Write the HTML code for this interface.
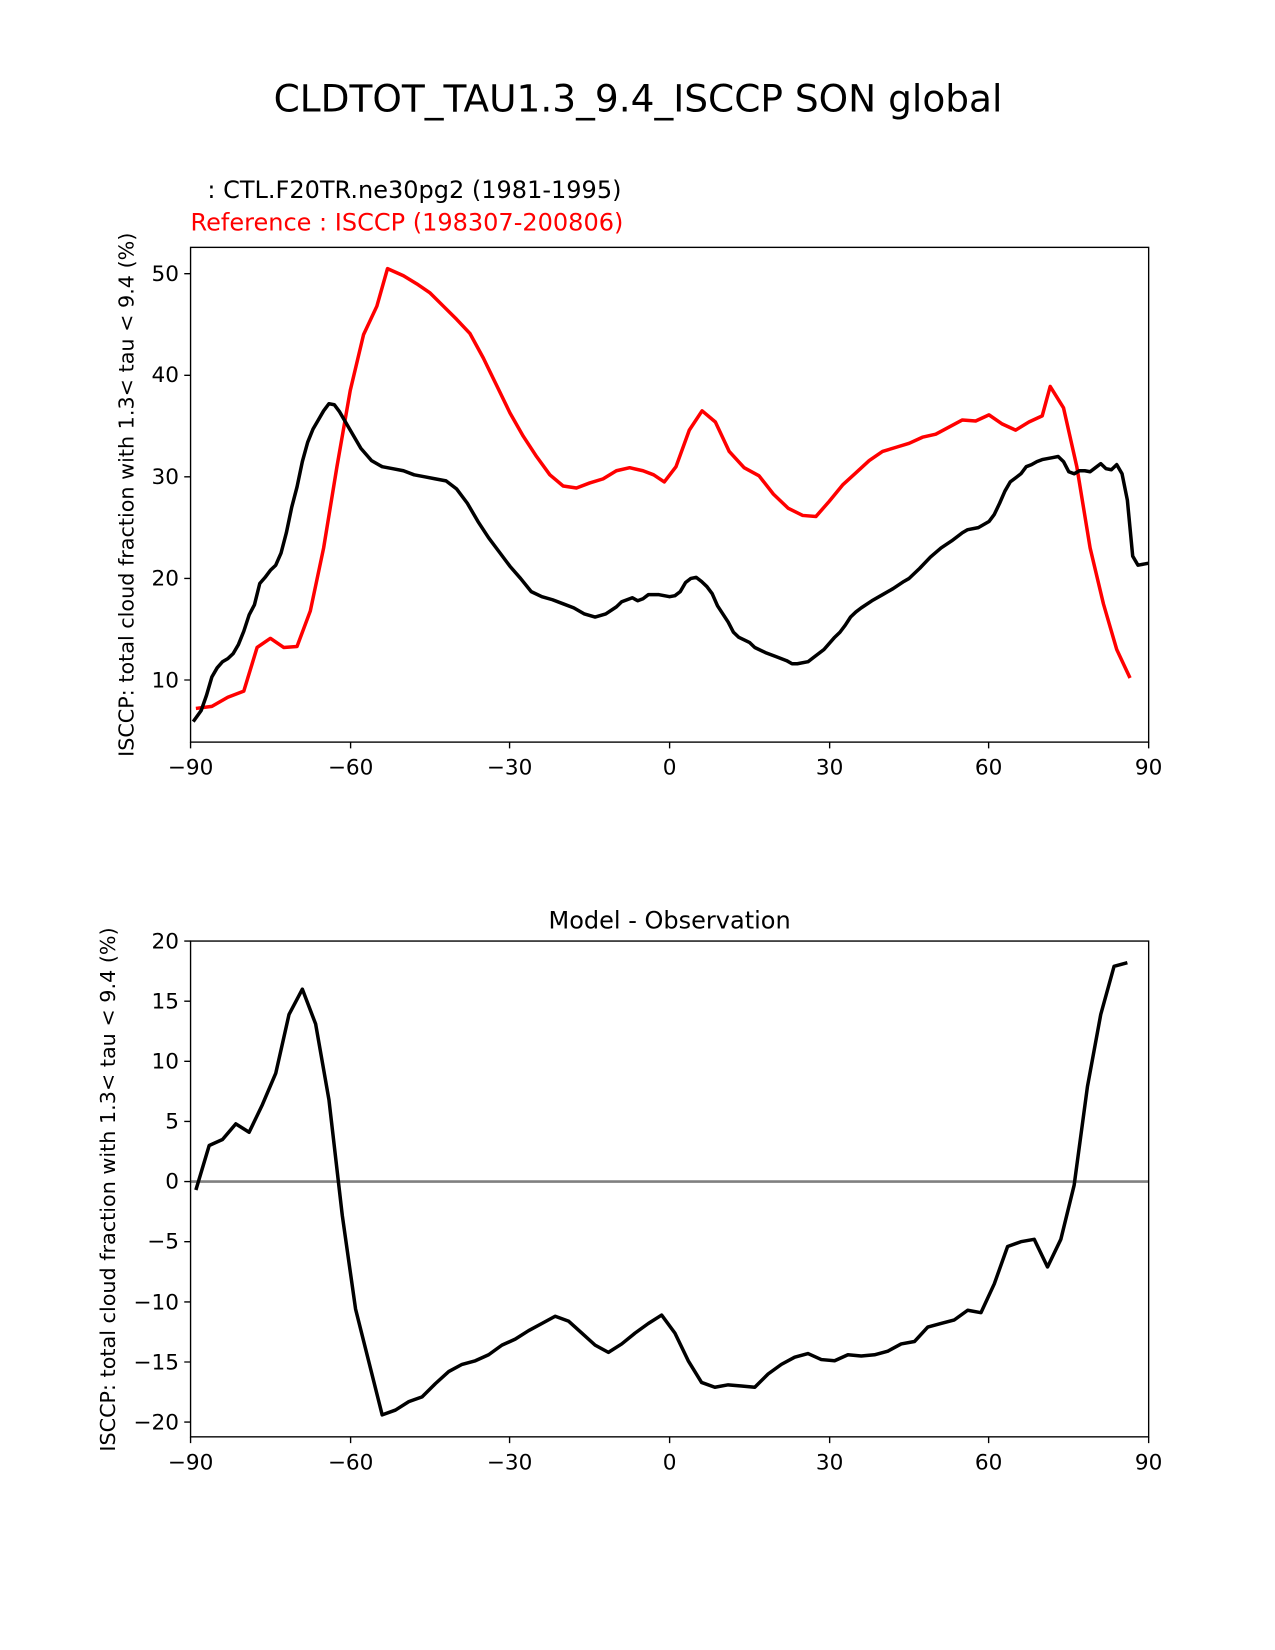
<!DOCTYPE html>
<html><head><meta charset="utf-8"><style>body{margin:0;background:#fff}svg{display:block}text{font-family:"DejaVu Sans","Liberation Sans",sans-serif}</style></head><body>
<svg width="1275" height="1650" viewBox="0 0 1211 1567.5" preserveAspectRatio="none" xmlns="http://www.w3.org/2000/svg">
<rect width="1211" height="1567.5" fill="#fff"/>
<text x="606" y="106" font-size="35.6" text-anchor="middle">CLDTOT_TAU1.3_9.4_ISCCP SON global</text>
<text x="197" y="188" font-size="22.8">: CTL.F20TR.ne30pg2 (1981-1995)</text>
<text x="181" y="219" font-size="22.8" fill="#f00">Reference : ISCCP (198307-200806)</text>
<text transform="translate(127,470) rotate(-90)" font-size="19.7" text-anchor="middle">ISCCP: total cloud fraction with 1.3&lt; tau &lt; 9.4 (%)</text>
<text transform="translate(109,1130) rotate(-90)" font-size="19.7" text-anchor="middle">ISCCP: total cloud fraction with 1.3&lt; tau &lt; 9.4 (%)</text>
<text x="636" y="882" font-size="22.8" text-anchor="middle">Model - Observation</text>
<defs><clipPath id="c1"><rect x="181" y="235" width="910" height="470"/></clipPath><clipPath id="c2"><rect x="181" y="894" width="910" height="471"/></clipPath></defs>
<g clip-path="url(#c1)">
<g transform="matrix(5.0556 0 0 -9.65 636 742.5)" fill="none" stroke-linejoin="round">
<polyline vector-effect="non-scaling-stroke" stroke="#f00" stroke-width="3.5" points="-89,7.2 -86,7.4 -83,8.3 -80,8.9 -77.5,13.2 -75,14.1 -72.5,13.2 -70,13.3 -67.5,16.8 -65,23 -62.5,31 -60,38.5 -57.5,44 -55,46.8 -53,50.5 -50,49.8 -47.5,49 -45,48.1 -42.5,46.8 -40,45.5 -37.5,44.1 -35,41.7 -32.5,39 -30,36.3 -27.5,34 -25,32 -22.5,30.2 -20,29.1 -17.5,28.9 -15,29.4 -12.5,29.8 -10,30.6 -7.5,30.9 -5,30.6 -3,30.2 -1,29.5 1.2,31 3.7,34.6 6.1,36.5 8.6,35.4 11.2,32.5 14,30.9 16.8,30.1 19.5,28.3 22.3,26.9 25,26.2 27.5,26.1 30,27.6 32.5,29.2 35,30.4 37.5,31.6 40,32.5 42.5,32.9 45,33.3 47.5,33.9 50,34.2 52.5,34.9 55,35.6 57.5,35.5 60,36.1 62.5,35.2 65,34.6 67.5,35.4 70,36 71.5,38.9 74,36.8 76.5,31 79,23 81.5,17.5 84,13 86.5,10.2"/>
<polyline vector-effect="non-scaling-stroke" stroke="#000" stroke-width="3.5" points="-89.5,5.9 -88,7 -87,8.5 -86,10.3 -85,11.2 -84,11.8 -83,12.1 -82,12.6 -81,13.5 -80,14.8 -79,16.4 -78,17.4 -77,19.5 -76,20.1 -75,20.8 -74,21.3 -73,22.5 -72,24.5 -71,27 -70,29 -69,31.5 -68,33.4 -67,34.7 -66,35.6 -65,36.5 -64,37.2 -63,37.1 -62,36.4 -61,35.5 -60,34.6 -58,32.8 -56,31.6 -54,31 -52,30.8 -50,30.6 -48,30.2 -46,30 -44,29.8 -42,29.6 -40,28.8 -38,27.4 -36,25.6 -34,24 -32,22.6 -30,21.2 -28,20 -26,18.7 -24,18.2 -22,17.9 -20,17.5 -18,17.1 -16,16.5 -14,16.2 -12,16.5 -10,17.2 -9,17.7 -7,18.1 -6,17.8 -5,18 -4,18.4 -2,18.4 0,18.2 1,18.3 2,18.7 3,19.6 4,20 5,20.1 6,19.7 7,19.2 8,18.5 9,17.3 11,15.7 12,14.7 13,14.2 15,13.7 16,13.2 18,12.7 20,12.3 22,11.9 23,11.6 24,11.6 26,11.8 27,12.2 29,13 31,14.2 32,14.7 33,15.4 34,16.2 35,16.7 36,17.1 38,17.8 40,18.4 42,19 44,19.7 45,20 47,21 49,22.1 51,23 53,23.7 55,24.5 56,24.8 58,25 60,25.6 61,26.3 62,27.4 63,28.6 64,29.5 65,29.9 66,30.3 67,31 68,31.2 69,31.5 70,31.7 72,31.9 73,32 74,31.5 75,30.5 76,30.3 77,30.6 78,30.6 79,30.5 80,30.9 81,31.3 82,30.8 83,30.7 84,31.2 85,30.3 86,27.7 87,22.2 88,21.3 90,21.5"/>
</g></g>
<g clip-path="url(#c2)">
<line x1="181" y1="1122.5" x2="1091" y2="1122.5" stroke="#808080" stroke-width="2.5"/>
<g transform="matrix(5.0556 0 0 -11.425 636 1122.5)" fill="none" stroke-linejoin="round">
<polyline vector-effect="non-scaling-stroke" stroke="#000" stroke-width="3.5" points="-89,-0.7 -86.5,3 -84,3.5 -81.5,4.8 -79,4.1 -76.5,6.4 -74,9 -71.5,13.9 -69,16 -66.5,13.1 -64,6.8 -61.5,-2.8 -59,-10.6 -56.5,-15 -54,-19.4 -51.5,-19 -49,-18.3 -46.5,-17.9 -44,-16.8 -41.5,-15.8 -39,-15.2 -36.5,-14.9 -34,-14.4 -31.5,-13.6 -29,-13.1 -26.5,-12.4 -24,-11.8 -21.5,-11.2 -19,-11.6 -16.5,-12.6 -14,-13.6 -11.5,-14.2 -9,-13.5 -6.5,-12.6 -4,-11.8 -1.5,-11.1 1,-12.6 3.5,-14.9 6,-16.7 8.5,-17.1 11,-16.9 13.5,-17 16,-17.1 18.5,-16 21,-15.2 23.5,-14.6 26,-14.3 28.5,-14.8 31,-14.9 33.5,-14.4 36,-14.5 38.5,-14.4 41,-14.1 43.5,-13.5 46,-13.3 48.5,-12.1 51,-11.8 53.5,-11.5 56,-10.7 58.5,-10.9 61,-8.5 63.5,-5.4 66,-5 68.5,-4.8 71,-7.1 73.5,-4.8 76,-0.3 78.5,7.9 81,13.9 83.5,17.9 86,18.2"/>
</g></g>
<g fill="none" stroke="#000" stroke-width="1.3">
<rect x="181" y="235" width="910" height="470"/>
<rect x="181" y="894" width="910" height="471"/>
<path d="M181,705v6M333,705v6M484,705v6M636,705v6M788,705v6M939,705v6M1091,705v6
M181,1365v6M333,1365v6M484,1365v6M636,1365v6M788,1365v6M939,1365v6M1091,1365v6
M181,646h-6M181,549.5h-6M181,453h-6M181,356.5h-6M181,260h-6
M181,894h-6M181,951.1h-6M181,1008.3h-6M181,1065.4h-6M181,1122.5h-6M181,1179.6h-6M181,1236.8h-6M181,1293.9h-6M181,1351h-6"/>
</g>
<g font-size="20.5" text-anchor="middle">
<text x="181" y="736">−90</text><text x="333" y="736">−60</text><text x="484" y="736">−30</text><text x="636" y="736">0</text><text x="788" y="736">30</text><text x="939" y="736">60</text><text x="1091" y="736">90</text>
<text x="181" y="1396">−90</text><text x="333" y="1396">−60</text><text x="484" y="1396">−30</text><text x="636" y="1396">0</text><text x="788" y="1396">30</text><text x="939" y="1396">60</text><text x="1091" y="1396">90</text>
</g>
<g font-size="20.5" text-anchor="end">
<text x="170" y="653">10</text><text x="170" y="556">20</text><text x="170" y="460">30</text><text x="170" y="363">40</text><text x="170" y="267">50</text>
<text x="170" y="901">20</text><text x="170" y="958">15</text><text x="170" y="1015">10</text><text x="170" y="1072">5</text><text x="170" y="1129">0</text><text x="170" y="1186">−5</text><text x="170" y="1244">−10</text><text x="170" y="1301">−15</text><text x="170" y="1358">−20</text>
</g>
</svg>
</body></html>
